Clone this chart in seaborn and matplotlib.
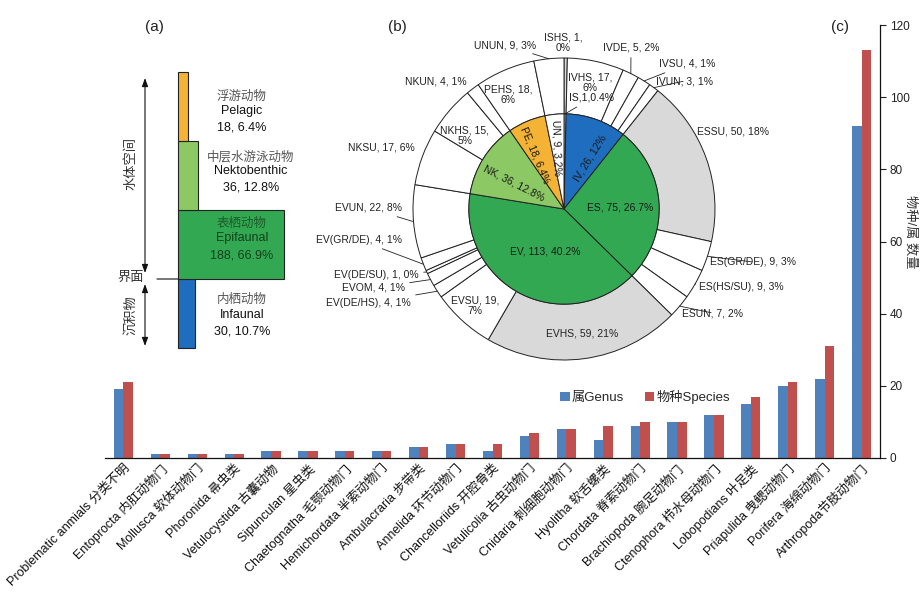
import matplotlib.pyplot as plt
import numpy as np
import pandas as pd
import seaborn as sns

# %% data
phyla = [
    "Problematic anmials 分类不明", "Entoprocta 内肛动物门", "Mollusca 软体动物门",
    "Phoronida 帚虫类", "Vetulocystida 古囊动物", "Sipunculan 星虫类",
    "Chaetognatha 毛颚动物门", "Hemichordata 半索动物门", "Ambulacraria 步带类",
    "Annelida 环节动物门", "Chancelloriids 开腔骨类", "Vetulicolia 古虫动物门",
    "Cnidaria 刺细胞动物门", "Hyolitha 软舌螺类", "Chordata 脊索动物门",
    "Brachiopoda 腕足动物门", "Ctenophora 栉水母动物门", "Lobopodians 叶足类",
    "Priapulida 曳鳃动物门", "Porifera 海绵动物门", "Arthropoda节肢动物门",
]
genus = [19, 1, 1, 1, 2, 2, 2, 2, 3, 4, 2, 6, 8, 5, 9, 10, 12, 15, 20, 22, 92]
species = [21, 1, 1, 1, 2, 2, 2, 2, 3, 4, 4, 7, 8, 9, 10, 10, 12, 17, 21, 31, 113]
y_ticks = [0, 20, 40, 60, 80, 100, 120]

# panel (a): life habit, bottom to top
habit_cn = ["内栖动物", "表栖动物", "中层水游泳动物", "浮游动物"]
habit_en = ["Infaunal", "Epifaunal", "Nektobenthic", "Pelagic"]
habit_n = [30, 188, 36, 18]
habit_pct = ["10.7%", "66.9%", "12.8%", "6.4%"]

# panel (b): outer ring, clockwise from 12 o'clock
outer_names = ["ISHS", "IVHS", "IVDE", "IVSU", "IVUN", "ESSU", "ES(GR/DE)", "ES(HS/SU)",
               "ESUN", "EVHS", "EVSU", "EV(DE/HS)", "EVOM", "EV(DE/SU)", "EV(GR/DE)",
               "EVUN", "NKSU", "NKHS", "NKUN", "PEHS", "UNUN"]
outer_counts = [1, 17, 5, 4, 3, 50, 9, 9, 7, 59, 19, 4, 4, 1, 4, 22, 17, 15, 4, 18, 9]
outer_pct = ["0%", "6%", "2%", "1%", "1%", "18%", "3%", "3%", "2%", "21%", "7%", "1%",
             "1%", "0%", "1%", "8%", "6%", "5%", "1%", "6%", "3%"]
inner_text = {
    "IS": "IS,1,0.4%", "IV": "IV, 26, 12%", "ES": "ES, 75, 26.7%",
    "EV": "EV, 113, 40.2%", "NK": "NK, 36, 12.8%", "PE": "PE, 18, 6.4%",
    "UN": "UN, 9, 3.2%",
}

# %% styles / positions
W, H = 922, 597
blue, red = "#4f81bd", "#c0504d"
habit_colors = ["#1f6dbf", "#33a852", "#8cc965", "#f5b335"]
inner_colors = {"IS": "#d9d9d9", "IV": "#1f6dbf", "ES": "#33a852", "EV": "#33a852",
                "NK": "#8cc965", "PE": "#f5b335", "UN": "#ffffff"}
grey_outer = {"ESSU", "EVHS", "ISHS"}
two_line = {"ISHS", "IVHS", "PEHS", "NKHS", "EVSU"}
# name: (x, y, ha, leader) in image pixels (top-left origin)
outer_pos = {
    "ISHS": (563, 43, "center", False), "IVHS": (590, 83, "center", False),
    "IVDE": (631, 48, "center", True), "IVSU": (659, 64, "left", True),
    "IVUN": (656, 81, "left", True), "ESSU": (697, 132, "left", False),
    "ES(GR/DE)": (710, 262, "left", True), "ES(HS/SU)": (699, 287, "left", True),
    "ESUN": (682, 313, "left", True), "EVHS": (582, 334, "center", False),
    "EVSU": (475, 306, "center", False), "EV(DE/HS)": (411, 303, "right", True),
    "EVOM": (405, 288, "right", True), "EV(DE/SU)": (419, 275, "right", True),
    "EV(GR/DE)": (402, 240, "right", True), "EVUN": (402, 208, "right", True),
    "NKSU": (415, 147, "right", False), "NKHS": (465, 136, "center", False),
    "NKUN": (467, 82, "right", False), "PEHS": (508, 95, "center", False),
    "UNUN": (536, 45, "right", True),
}
# name: (x, y, rotation)
inner_pos = {"IS": (592, 98, 0), "IV": (590, 158, 58), "ES": (620, 207, 0),
             "EV": (545, 251, 0), "NK": (514, 183, -27), "PE": (535, 155, -67),
             "UN": (556, 148, -88)}

sns.set_style("white")
plt.rcParams["font.family"] = ["Liberation Sans", "Noto Sans CJK SC", "DejaVu Sans"]
plt.rcParams["axes.unicode_minus"] = False

fig = plt.figure(figsize=(W / 100, H / 100), dpi=100)


def fpx(x, y):
    return (x, H - y)


# %% (c) bar chart
axc = fig.add_axes([105 / W, (H - 458) / H, 775 / W, 433 / H])
axc.patch.set_alpha(0)
n = len(phyla)
df = pd.DataFrame({
    "phylum": phyla * 2,
    "count": genus + species,
    "kind": ["属Genus"] * n + ["物种Species"] * n,
})
sns.barplot(data=df, x="phylum", y="count", hue="kind", palette=[blue, red],
            width=0.52, gap=0, saturation=1, linewidth=0, ax=axc)
axc.set_xlim(-0.5, n - 0.5)
axc.set_ylim(0, 120)
axc.set_yticks(y_ticks)
axc.yaxis.tick_right()
axc.tick_params(axis="y", length=4, width=0.8, labelsize=8.5, direction="out",
                colors="#222", pad=3)
axc.tick_params(axis="x", length=0, pad=3, colors="#111")
axc.set_xticks(range(n))
axc.set_xticklabels(phyla, rotation=45, ha="right", rotation_mode="anchor", fontsize=9)
for s in ["left", "top"]:
    axc.spines[s].set_visible(False)
for s in ["right", "bottom"]:
    axc.spines[s].set_color("#111")
    axc.spines[s].set_linewidth(0.9)
axc.set_xlabel("")
axc.set_ylabel("")
fig.text(911 / W, 1 - 232 / H, "物种/属 数量", rotation=270, ha="center", va="center",
         fontsize=9.5, color="#333")
axc.legend(loc="center", bbox_to_anchor=(0.697, 0.14), ncol=2, frameon=False,
           fontsize=9.5, handlelength=0.7, handleheight=0.7, handletextpad=0.15,
           columnspacing=1.6, title=None)

# %% (b) nested pie
axb = fig.add_axes([(564 - 151) / W, (H - 209 - 151) / H, 302 / W, 302 / H])
axb.patch.set_alpha(0)
outer = pd.DataFrame({"name": outer_names, "count": outer_counts, "pct": outer_pct})
outer["group"] = outer["name"].str[:2]
inner = outer.groupby("group", sort=False)["count"].sum()
r_in = 0.63

wp = dict(edgecolor="#222", linewidth=0.7)
axb.pie(outer["count"], radius=1, startangle=90, counterclock=False,
        colors=["#d9d9d9" if nm in grey_outer else "white" for nm in outer_names],
        wedgeprops=dict(width=1 - r_in, **wp))
axb.pie(inner.values, radius=r_in, startangle=90, counterclock=False,
        colors=[inner_colors[g] for g in inner.index], wedgeprops=wp)
axb.set_xlim(-1, 1)
axb.set_ylim(-1, 1)
axb.axis("off")

total = outer["count"].sum()
cum = outer["count"].cumsum() - outer["count"] / 2
outer["theta"] = np.deg2rad(90 - cum / total * 360)
for _, row in outer.iterrows():
    x, y, ha, leader = outer_pos[row["name"]]
    sep = ",\n" if row["name"] in two_line else ", "
    txt = f"{row['name']}, {row['count']}{sep}{row['pct']}"
    arrow = dict(arrowstyle="-", lw=0.6, color="#222", shrinkA=1, shrinkB=0) if leader else None
    axb.annotate(txt, xy=(np.cos(row["theta"]), np.sin(row["theta"])), xycoords="data",
                 xytext=fpx(x, y), textcoords="figure pixels", ha=ha, va="center",
                 fontsize=7.5, color="#222", linespacing=1.1, arrowprops=arrow,
                 annotation_clip=False, zorder=5)

icum = inner.cumsum() - inner / 2
for g, val in inner.items():
    x, y, rot = inner_pos[g]
    th = np.deg2rad(90 - icum[g] / total * 360)
    arrow = None
    if g == "IS":
        arrow = dict(arrowstyle="-", lw=0.6, color="#222", shrinkA=1, shrinkB=0)
    axb.annotate(inner_text[g], xy=(r_in * np.cos(th), r_in * np.sin(th)), xycoords="data",
                 xytext=fpx(x, y), textcoords="figure pixels", ha="center", va="center",
                 rotation=rot, fontsize=7.5, color="#1a1a1a", arrowprops=arrow,
                 annotation_clip=False, zorder=5)

# %% (a) life habit bars
axa = fig.add_axes([178 / W, (H - 348) / H, 106 / W, 276 / H])
axa.barh(range(4), habit_n, height=1, left=0, color=habit_colors,
         edgecolor="#222", linewidth=0.8, clip_on=False)
axa.set_xlim(0, 188)
axa.set_ylim(-0.5, 3.5)
axa.axis("off")

text_y = [300, 224, 157, 97]
text_x = [242, 242, 251, 242]
for i in range(4):
    col = "#13401c" if i == 1 else "#111"
    fig.text(text_x[i] / W, 1 - text_y[i] / H, habit_cn[i], ha="center", va="center",
             fontsize=9, color="#555" if i != 1 else "#1d5a2a")
    fig.text(text_x[i] / W, 1 - (text_y[i] + 14.5) / H, habit_en[i], ha="center",
             va="center", fontsize=9, color=col)
    fig.text(text_x[i] / W, 1 - (text_y[i] + 31) / H, f"{habit_n[i]}, {habit_pct[i]}",
             ha="center", va="center", fontsize=9, color=col)

arr = dict(arrowstyle="<|-|>,head_length=0.5,head_width=0.18", lw=0.8, color="#111",
           shrinkA=0, shrinkB=0)
axa.annotate("", xy=fpx(145, 78), xytext=fpx(145, 273), xycoords="figure pixels",
             textcoords="figure pixels", arrowprops=arr)
axa.annotate("", xy=fpx(145, 284), xytext=fpx(145, 346), xycoords="figure pixels",
             textcoords="figure pixels", arrowprops=arr)
axa.annotate("", xy=fpx(157, 279), xytext=fpx(178, 279), xycoords="figure pixels",
             textcoords="figure pixels",
             arrowprops=dict(arrowstyle="-", lw=0.8, color="#111", shrinkA=0, shrinkB=0))
fig.text(131 / W, 1 - 163 / H, "水体空间", rotation=90, ha="center", va="center",
         fontsize=9.5, color="#333")
fig.text(131 / W, 1 - 315 / H, "沉积物", rotation=90, ha="center", va="center",
         fontsize=9.5, color="#333")
fig.text(131 / W, 1 - 278 / H, "界面", ha="center", va="center", fontsize=9.5, color="#333")

# panel tags
for tag, x in [("(a)", 154), ("(b)", 397), ("(c)", 840)]:
    fig.text(x / W, 1 - 27 / H, tag, ha="center", va="center", fontsize=11, color="#222")

plt.savefig("out.png", dpi=100)
